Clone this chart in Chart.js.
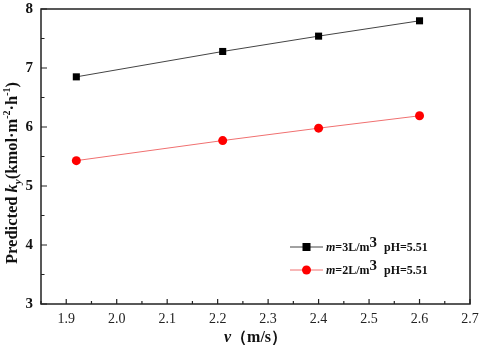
<!DOCTYPE html>
<html>
<head>
<meta charset="utf-8">
<script src="https://cdn.jsdelivr.net/npm/chart.js@4"></script>
<style>
  html, body { margin: 0; padding: 0; background: #fff; }
  #wrap { width: 484px; height: 347px; }
</style>
</head>
<body>
<div id="wrap"><canvas id="chart" width="484" height="347"></canvas></div>
<script>
// values
const velocities = [1.92, 2.21, 2.40, 2.60];
const kyM3 = [6.85, 7.28, 7.54, 7.80];   // m=3L/m3 pH=5.51
const kyM2 = [5.43, 5.77, 5.98, 6.19];   // m=2L/m3 pH=5.51
const xMin = 1.85, xMax = 2.7, xStep = 0.05;
const yMin = 3, yMax = 8, yStep = 0.5;

const SERIF = '"Liberation Serif", "DejaVu Serif", serif';

function points(ys) {
    return velocities.map((v, i) => ({x: v, y: ys[i]}));
}

// draw a run of text pieces with their own font and baseline shift
function drawRich(ctx, parts, x, y, align) {
    let total = 0;
    parts.forEach(p => { ctx.font = p.font; total += ctx.measureText(p.text).width; });
    let cx = align === 'center' ? x - total / 2 : x;
    ctx.textBaseline = 'middle';
    ctx.textAlign = 'left';
    parts.forEach(p => {
        ctx.font = p.font;
        ctx.fillText(p.text, cx, y + (p.dy || 0));
        cx += ctx.measureText(p.text).width;
    });
}

function isMajor(v, every) {
    return Math.abs(Math.round(v / every) * every - v) < 1e-6;
}

const framePlugin = {
    id: 'frame',
    afterDraw(chart) {
        const ctx = chart.ctx;
        const a = chart.chartArea;
        const xs = chart.scales.x, ys = chart.scales.y;
        ctx.save();
        ctx.strokeStyle = '#222';
        ctx.lineWidth = 1.5;
        ctx.strokeRect(a.left, a.top, a.right - a.left, a.bottom - a.top);

        // inward ticks on bottom and left axes
        ctx.lineWidth = 1.2;
        ctx.beginPath();
        xs.ticks.forEach(t => {
            const px = xs.getPixelForValue(t.value);
            const len = isMajor(t.value, 0.1) ? 5 : 3;
            ctx.moveTo(px, a.bottom);
            ctx.lineTo(px, a.bottom - len);
        });
        ys.ticks.forEach(t => {
            const py = ys.getPixelForValue(t.value);
            const len = isMajor(t.value, 1) ? 6 : 3.5;
            ctx.moveTo(a.left, py);
            ctx.lineTo(a.left + len, py);
        });
        ctx.stroke();

        // axis titles
        ctx.fillStyle = '#111';
        const b = 'bold 16.5px ' + SERIF, bi = 'italic bold 16.5px ' + SERIF;
        const sm = 'bold 10px ' + SERIF, smi = 'italic bold 11px ' + SERIF;
        drawRich(ctx, [
            {text: 'v', font: 'italic bold 16px ' + SERIF},
            {text: '（m/s）', font: 'bold 16px ' + SERIF}
        ], (a.left + a.right) / 2, 338, 'center');

        ctx.save();
        ctx.translate(13, 173);
        ctx.rotate(-Math.PI / 2);
        drawRich(ctx, [
            {text: 'Predicted ', font: b},
            {text: 'k', font: bi},
            {text: 'y', font: smi, dy: 5},
            {text: '(kmol·m', font: b},
            {text: '-2', font: sm, dy: -6},
            {text: '·h', font: b},
            {text: '-1', font: sm, dy: -6},
            {text: ')', font: b}
        ], 0, 0, 'center');
        ctx.restore();

        // legend inside the plot
        const lb = 'bold 12px ' + SERIF, lbi = 'italic bold 12px ' + SERIF;
        const sup = 'bold 15px ' + SERIF;
        const rows = [
            {ds: chart.data.datasets[0], y: 247, m: '=3L/m'},
            {ds: chart.data.datasets[1], y: 270, m: '=2L/m'}
        ];
        rows.forEach(r => {
            ctx.strokeStyle = r.ds.borderColor;
            ctx.lineWidth = 1;
            ctx.beginPath();
            ctx.moveTo(290, r.y);
            ctx.lineTo(323, r.y);
            ctx.stroke();
            ctx.fillStyle = r.ds.pointBackgroundColor;
            if (r.ds.pointStyle === 'rect') {
                ctx.fillRect(302.5, r.y - 4, 8, 8);
            } else {
                ctx.beginPath();
                ctx.arc(306.5, r.y, 4.5, 0, Math.PI * 2);
                ctx.fill();
            }
            ctx.fillStyle = '#111';
            drawRich(ctx, [
                {text: 'm', font: lbi},
                {text: r.m, font: lb},
                {text: '3', font: sup, dy: -5}
            ], 326, r.y + 1, 'left');
            ctx.font = lb;
            ctx.fillText('pH=5.51', 384, r.y + 1);
        });
        ctx.restore();
    }
};

new Chart(document.getElementById('chart').getContext('2d'), {
    type: 'scatter',
    data: {
        datasets: [{
            label: 'm=3L/m3 pH=5.51',
            data: points(kyM3),
            showLine: true,
            borderColor: '#444',
            borderWidth: 1,
            pointStyle: 'rect',
            pointRadius: 5,
            pointBackgroundColor: '#000',
            pointBorderColor: '#000',
            pointBorderWidth: 0
        }, {
            label: 'm=2L/m3 pH=5.51',
            data: points(kyM2),
            showLine: true,
            borderColor: '#f07070',
            borderWidth: 1,
            pointStyle: 'circle',
            pointRadius: 4.5,
            pointBackgroundColor: '#ff0000',
            pointBorderColor: '#ff0000',
            pointBorderWidth: 0
        }]
    },
    options: {
        responsive: false,
        animation: false,
        events: [],
        layout: {padding: {left: 0, top: 9, right: 14, bottom: 0}},
        plugins: {legend: {display: false}, tooltip: {enabled: false}},
        scales: {
            x: {
                type: 'linear',
                min: xMin, max: xMax,
                grid: {display: false, drawTicks: false},
                border: {display: false},
                afterFit(scale) {
                    scale.height = 43;
                    scale.paddingLeft = 0;
                    scale.paddingRight = 0;
                },
                ticks: {
                    stepSize: xStep,
                    autoSkip: false,
                    maxRotation: 0,
                    padding: 7,
                    color: '#222',
                    font: {family: SERIF, size: 14},
                    callback: v => isMajor(v, 0.1) ? v.toFixed(1) : ''
                }
            },
            y: {
                min: yMin, max: yMax,
                grid: {display: false, drawTicks: false},
                border: {display: false},
                afterFit(scale) {
                    scale.width = 41;
                    scale.paddingTop = 0;
                    scale.paddingBottom = 0;
                },
                ticks: {
                    stepSize: yStep,
                    autoSkip: false,
                    padding: 8,
                    color: '#111',
                    font: {family: SERIF, size: 15, weight: 'bold'},
                    callback: v => isMajor(v, 1) ? v.toFixed(0) : ''
                }
            }
        }
    },
    plugins: [framePlugin]
});
</script>
</body>
</html>
